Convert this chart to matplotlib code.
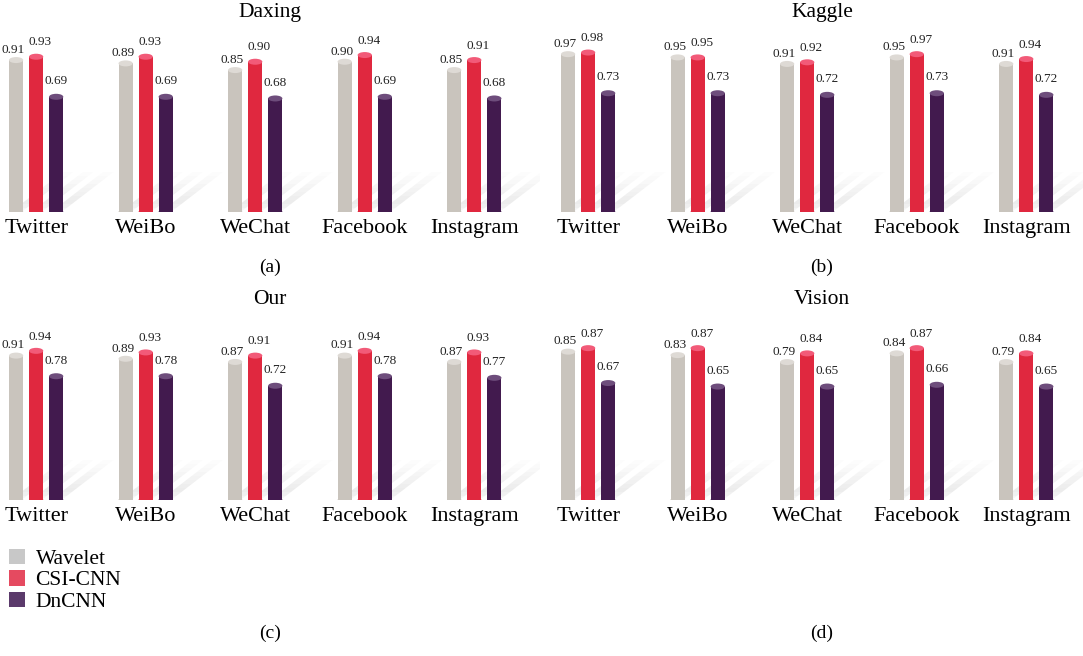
import matplotlib.pyplot as plt
from matplotlib.patches import Ellipse, Polygon, Patch

plt.rcParams['font.family'] = ['Liberation Serif', 'DejaVu Serif']

platforms = ["Twitter", "WeiBo", "WeChat", "Facebook", "Instagram"]
methods = ["Wavelet", "CSI-CNN", "DnCNN"]

daxing_wavelet = [0.91, 0.89, 0.85, 0.90, 0.85]
daxing_csi = [0.93, 0.93, 0.90, 0.94, 0.91]
daxing_dncnn = [0.69, 0.69, 0.68, 0.69, 0.68]

kaggle_wavelet = [0.97, 0.95, 0.91, 0.95, 0.91]
kaggle_csi = [0.98, 0.95, 0.92, 0.97, 0.94]
kaggle_dncnn = [0.73, 0.73, 0.72, 0.73, 0.72]

our_wavelet = [0.91, 0.89, 0.87, 0.91, 0.87]
our_csi = [0.94, 0.93, 0.91, 0.94, 0.93]
our_dncnn = [0.78, 0.78, 0.72, 0.78, 0.77]

vision_wavelet = [0.85, 0.83, 0.79, 0.84, 0.79]
vision_csi = [0.87, 0.87, 0.84, 0.87, 0.84]
vision_dncnn = [0.67, 0.65, 0.65, 0.66, 0.65]

bar_colors = ["#c9c4bd", "#e0283f", "#421a4e"]
top_colors = ["#dedad5", "#f25a78", "#6e4d7c"]
legend_colors = ["#c8c8c8", "#e54a60", "#5b3a6b"]

W, H = 1083, 656
fig = plt.figure(figsize=(W / 100, H / 100), dpi=100)

# (title, letter, series, left px, bottom px, ymax)
panels = [
    ("Daxing", "(a)", [daxing_wavelet, daxing_csi, daxing_dncnn], 0, 212, 1.15),
    ("Kaggle", "(b)", [kaggle_wavelet, kaggle_csi, kaggle_dncnn], 552, 212, 1.18),
    ("Our", "(c)", [our_wavelet, our_csi, our_dncnn], 0, 500, 1.21),
    ("Vision", "(d)", [vision_wavelet, vision_csi, vision_dncnn], 552, 500, 1.10),
]

ax_w_px, ax_h_px = 540, 192
xmin, xmax = -0.33, 4.6
offsets = [-0.183, 0.0, 0.183]
bw = 0.13
label_off = [(-2, 3), (3, 6), (0, 7)]

for title, letter, series, lpx, bpx, ymax in panels:
    ax = fig.add_axes([lpx / W, 1 - bpx / H, ax_w_px / W, ax_h_px / H])
    ax.set_xlim(xmin, xmax)
    ax.set_ylim(0, ymax)
    px_x = ax_w_px / (xmax - xmin)
    px_y = ax_h_px / ymax
    ell_h = 6 / px_y

    for j, vals in enumerate(series):
        xs = [i + offsets[j] for i in range(len(platforms))]
        # soft diagonal shadow behind each bar
        for x, v in zip(xs, vals):
            n = 10
            dx, dy = 52 / px_x, 40 / px_y
            sw = bw * 0.75
            for k in range(n):
                f0, f1 = k / n, (k + 1) / n
                a = 0.2 * (1 - f0) * min(1.0, 0.4 + f0 * 3)
                poly = Polygon([(x - sw / 2 + dx * f0, dy * f0), (x + sw / 2 + dx * f0, dy * f0),
                                (x + sw / 2 + dx * f1, dy * f1), (x - sw / 2 + dx * f1, dy * f1)],
                               closed=True, facecolor="#8c8c8c", edgecolor="none",
                               alpha=a, zorder=1)
                ax.add_patch(poly)
        ax.bar(xs, vals, width=bw, color=bar_colors[j], zorder=3)
        for x, v in zip(xs, vals):
            ax.add_patch(Ellipse((x, 0), bw, ell_h, facecolor=bar_colors[j], edgecolor="none", zorder=3))
            ax.add_patch(Ellipse((x, v), bw, ell_h, facecolor=top_colors[j], edgecolor="none", zorder=4))
            ax.annotate(f"{v:.2f}", (x, v), xytext=label_off[j], textcoords="offset points",
                        ha="center", va="bottom", fontsize=9.5, color="#222222")

    ax.set_xticks(range(len(platforms)))
    ax.set_xticklabels(platforms, fontsize=16)
    ax.tick_params(axis="x", length=0, pad=5)
    ax.set_yticks([])
    for s in ax.spines.values():
        s.set_visible(False)
    ax.patch.set_alpha(0)

    cx = (lpx + ax_w_px / 2) / W
    fig.text(cx, 1 - (bpx - 200) / H, title, ha="center", va="center", fontsize=15.5)
    fig.text(cx, 1 - (bpx + 55) / H if bpx == 212 else 1 - 633 / H, letter,
             ha="center", va="center", fontsize=14)

handles = [Patch(facecolor=c, edgecolor="none") for c in legend_colors]
fig.legend(handles, methods, loc="upper left", bbox_to_anchor=(0.0, 1 - 540 / H),
           frameon=False, fontsize=15.5, handlelength=0.75, handleheight=0.75,
           handletextpad=0.5, labelspacing=0.05, borderaxespad=0.1, borderpad=0.3)

fig.savefig("out.png", dpi=100)
